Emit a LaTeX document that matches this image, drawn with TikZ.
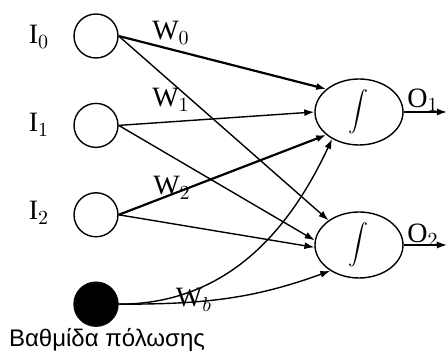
\documentclass[tikz,border=0pt]{standalone}
\usepackage{fontspec}
\setmainfont{Liberation Serif}
\newfontfamily\greekfont{Liberation Sans}
\usetikzlibrary{shapes,arrows.meta,calc,positioning}

\begin{document}
\begin{tikzpicture}[x=0.5pt,y=-0.5pt,
neuron/.style={draw, circle, minimum size=22pt, inner sep=0pt, line width=0.7pt},
unit/.style={draw, ellipse, minimum width=44pt, minimum height=33pt, inner sep=0pt, line width=0.7pt,
  font=\fontsize{9}{10}\selectfont},
link/.style={-{Latex[length=5pt,width=3.5pt]}, line width=0.7pt},
heavy/.style={link, line width=1.1pt},
font=\fontsize{14}{16}\selectfont]
    \useasboundingbox (0,0) rectangle (447,351);

    % inputs
    \node [neuron] (i0) at (96,36) {};
    \node [neuron, below=22pt of i0] (i1) {};
    \node [neuron, below=22pt of i1] (i2) {};
    \node [neuron, fill=black, below=22pt of i2] (bias) {};

    \node (l0) at (39,37) {I$_0$};
    \node (l1) at (39,125) {I$_1$};
    \node (l2) at (39,213) {I$_2$};
    \node [font=\fontsize{12}{14}\selectfont] (lb) at (107,340) {\greekfont Βαθμίδα πόλωσης};

    % outputs
    \node [unit] (o1) at (359,112) {$\displaystyle\int$};
    \node [unit] (o2) at (359,245) {$\displaystyle\int$};
    \coordinate (out1) at (447,112);
    \coordinate (out2) at (447,245);
    \node (lo1) at (423,100) {O$_1$};
    \node (lo2) at (423,235) {O$_2$};

  \draw [heavy] (i0.east) -- (o1.145);
  \draw [link] (i0.east) -- (o2.141);
  \draw [link] (i1.east) -- (o1.180);
  \draw [link] (i1.east) -- (o2.174);
  \draw [heavy] (i2.east) -- (o1.215);
  \draw [link] (i2.east) -- (o2.183);
  \draw [link] (bias.east) to[out=0, in=245] (o1.225);
  \draw [link] (bias.east) to[out=0, in=200] (o2.222);
  \draw [link] (o1.east) -- (out1);
  \draw [link] (o2.east) -- (out2);

  % weights
  \node (w0) at (171,33) {W$_0$};
  \node (w1) at (171,100) {W$_1$};
  \node (w2) at (172,188) {W$_2$};
  \node (wb) at (194,300) {W$_b$};
\end{tikzpicture}
\end{document}
